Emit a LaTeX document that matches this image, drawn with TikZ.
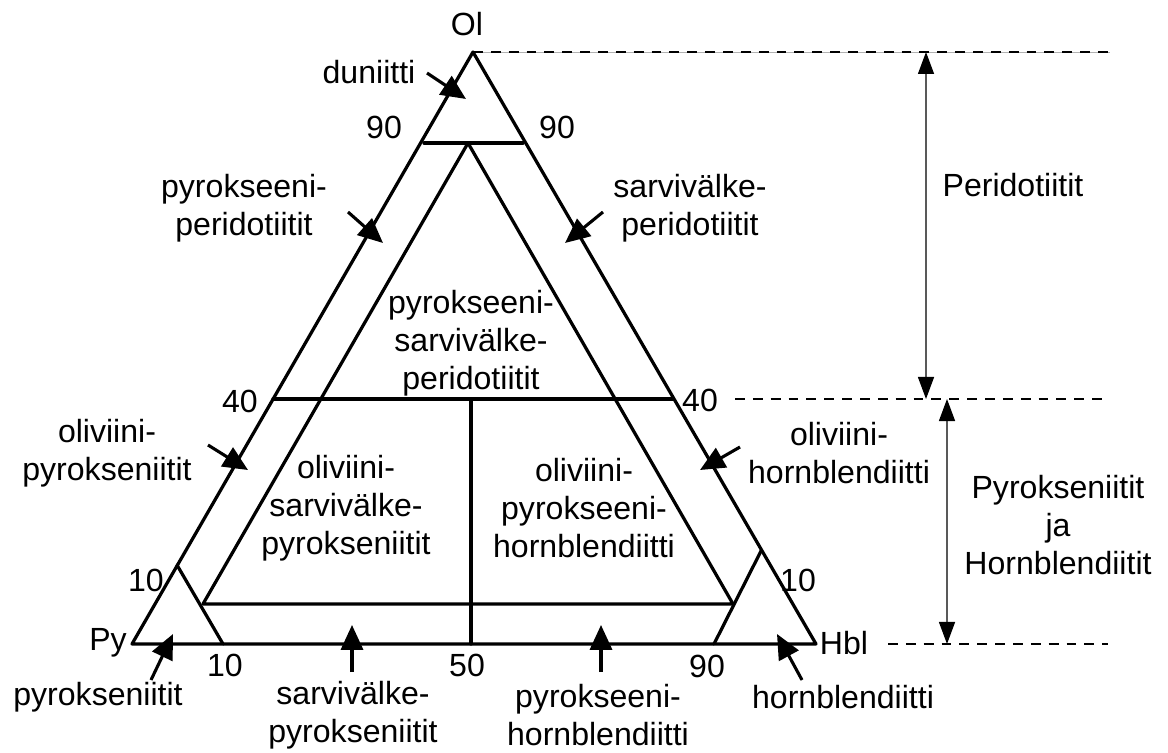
\documentclass[tikz,border=0pt]{standalone}
\usepackage{fontspec}
\setmainfont{Liberation Sans}
\usepackage{tikz}
\usetikzlibrary{arrows.meta}

\begin{document}
\begin{tikzpicture}[x=0.025cm, y=-0.025cm,
       every node/.style={font=\fontsize{22.8}{27}\selectfont, align=center, inner sep=0pt},
       edge/.style={line width=2.3pt, line cap=round, line join=round},
       pointer/.style={line width=2.2pt, -{Triangle[length=0.62cm, width=0.55cm]}},
       dimline/.style={line width=0.9pt, black!65, {Triangle[length=0.55cm, width=0.4cm, black]}-{Triangle[length=0.55cm, width=0.4cm, black]}},
       level/.style={line width=1.6pt, dash pattern=on 7pt off 5.7pt}]
       \useasboundingbox (0,0) rectangle (1168,753);

       \coordinate(OL) at (473,52);
       \coordinate(PY) at (132,644);
       \coordinate(HBL) at (816,644);
       
       \coordinate(L90) at (424,143);
       \coordinate(R90) at (523,143);
       \coordinate(M90) at (468,143);
       \coordinate(L40) at (273,399);
       \coordinate(R40) at (673,399);
       \coordinate(M40) at (471,399);
       \coordinate(M50) at (471,644);
       \coordinate(L10a) at (177,565);
       \coordinate(L10b) at (223,644);
       \coordinate(R10a) at (761,551);
       \coordinate(R10b) at (714,644);
       \coordinate(IL) at (203,604);
       \coordinate(IR) at (733,604);
       
       \draw[edge] (OL) -- (PY) -- (HBL) -- cycle;
       \draw[edge] (L90) -- (R90);
       \draw[edge] (L40) -- (R40);
       \draw[edge] (M40) -- (M50);
       \draw[edge] (L10a) -- (L10b);
       \draw[edge] (R10a) -- (R10b);
       \draw[edge] (IL) -- (M90) -- (IR) -- cycle;
       
       \node(NOL) at (467,24) {Ol};
       \node(NPY) at (108,643) {Py};
       \node(NHBL) at (844,643) {Hbl};
       
       \node(T90L) at (384,127) {90};
       \node(T90R) at (557,127) {90};
       \node(T40L) at (240,401) {40};
       \node(T40R) at (700,400) {40};
       \node(T10L) at (146,580) {10};
       \node(T10R) at (798,580) {10};
       \node(T10B) at (225,665) {10};
       \node(T50B) at (467,665) {50};
       \node(T90B) at (707,666) {90};
       
       \node(DUN) at (369,72) {duniitti};
       \coordinate(DUNa) at (427,73);
       \coordinate(DUNb) at (466,99);
       \draw[pointer] (DUNa) -- (DUNb);
       
       \node(PXP) at (244,208) {pyrokseeni-\\peridotiitit};
       \coordinate(PXPa) at (348,212);
       \coordinate(PXPb) at (383,243);
       \draw[pointer] (PXPa) -- (PXPb);
       
       \node(HBP) at (690,208) {sarvivälke-\\peridotiitit};
       \coordinate(HBPa) at (603,212);
       \coordinate(HBPb) at (565,243);
       \draw[pointer] (HBPa) -- (HBPb);
       
       \node(PHP) at (471,343) {pyrokseeni-\\sarvivälke-\\peridotiitit};
       
       \node(OPX) at (107,453) {oliviini-\\pyrokseniitit};
       \coordinate(OPXa) at (208,445);
       \coordinate(OPXb) at (248,470);
       \draw[pointer] (OPXa) -- (OPXb);
       
       \node(OHB) at (839,453) {oliviini-\\hornblendiitti};
       \coordinate(OHBa) at (740,447);
       \coordinate(OHBb) at (700,470);
       \draw[pointer] (OHBa) -- (OHBb);
       
       \node(OHPX) at (346,508) {oliviini-\\sarvivälke-\\pyrokseniitit};
       \node(OPXHB) at (584,508) {oliviini-\\pyrokseeni-\\hornblendiitti};
       
       \node(PX) at (98,697) {pyrokseniitit};
       \coordinate(PXa) at (151,680);
       \coordinate(PXb) at (173,634);
       \draw[pointer] (PXa) -- (PXb);
       
       \node(HBPX) at (353,715) {sarvivälke-\\pyrokseniitit};
       \coordinate(HBPXa) at (352,672);
       \coordinate(HBPXb) at (352,625);
       \draw[pointer] (HBPXa) -- (HBPXb);
       
       \node(PXHB) at (598,715) {pyrokseeni-\\hornblendiitti};
       \coordinate(PXHBa) at (601,672);
       \coordinate(PXHBb) at (601,625);
       \draw[pointer] (PXHBa) -- (PXHBb);
       
       \node(HB) at (843,697) {hornblendiitti};
       \coordinate(HBa) at (802,680);
       \coordinate(HBb) at (777,634);
       \draw[pointer] (HBa) -- (HBb);
       
       \coordinate(D1) at (1110,52);
       \coordinate(D2a) at (735,399);
       \coordinate(D2b) at (1102,399);
       \coordinate(D3a) at (888,644);
       \coordinate(D3b) at (1108,644);
       \draw[black!30, line width=0.6pt] (OL) -- (D1);
       \draw[level] (OL) -- (D1);
       \draw[level] (D2a) -- (D2b);
       \draw[level] (D3a) -- (D3b);
       
       \coordinate(A1) at (926,52);
       \coordinate(A2) at (926,399);
       \coordinate(B1) at (947,399);
       \coordinate(B2) at (947,644);
       \draw[dimline] (A1) -- (A2);
       \draw[dimline] (B1) -- (B2);
       
       \node(PER) at (1013,185) {Peridotiitit};
       \node(PXHBT) at (1058,525) {Pyrokseniitit\\ja\\Hornblendiitit};
\end{tikzpicture}
\end{document}
